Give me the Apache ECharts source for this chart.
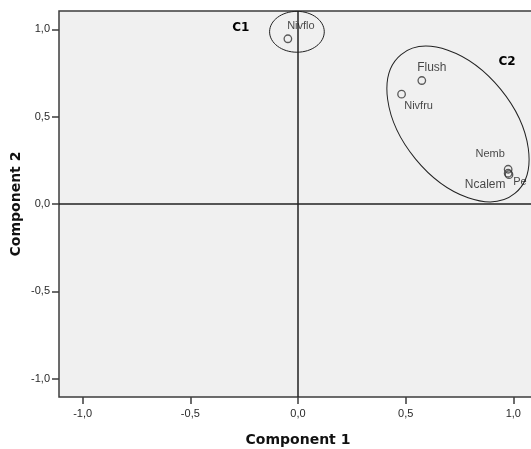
<!DOCTYPE html>
<html>
<head>
<meta charset="utf-8">
<script src="https://cdn.jsdelivr.net/npm/echarts@6/dist/echarts.min.js"></script>
<style>
  html, body { margin: 0; padding: 0; background: #ffffff; }
  #chart { width: 531px; height: 449px; }
</style>
</head>
<body>
<div id="chart"></div>
<script>
// ---- data ----
const variables = ['Nivflo', 'Flush', 'Nivfru', 'Nemb', 'Ncalem', 'Pe'];
const component1 = [-0.047, 0.575, 0.481, 0.976, 0.976, 0.980];
const component2 = [0.946, 0.707, 0.629, 0.199, 0.176, 0.168];

const tickValues = [-1.0, -0.5, 0.0, 0.5, 1.0];

// cluster ellipses (centre in data units, radii, rotation in degrees)
const clusterNames = ['C1', 'C2'];
const clusterCenterX = [-0.005, 0.743];
const clusterCenterY = [0.986, 0.458];
const clusterRadiusX = [0.127, 0.417];
const clusterRadiusY = [0.117, 0.315];
const clusterAngle = [0, 50.7];
const clusterLabelX = [-0.266, 0.971];
const clusterLabelY = [1.007, 0.815];

// ---- label styling (not data) ----
const labelOffsets = {
  Nivflo: [13, -13], Flush: [10, -13], Nivfru: [17, 12],
  Nemb: [-18, -15], Ncalem: [-23, 11], Pe: [11, 7]
};
const labelSizes = { Nivflo: 11, Flush: 12, Nivfru: 11, Nemb: 11, Ncalem: 12, Pe: 11 };

const fmt = v => v.toFixed(1).replace('.', ',');

const pointData = variables.map((name, i) => ({
  name: name,
  value: [component1[i], component2[i]],
  label: {
    show: true,
    formatter: name,
    position: 'inside',
    offset: labelOffsets[name],
    fontSize: labelSizes[name],
    fontFamily: 'Liberation Sans, Arial, sans-serif',
    color: '#1a1a1a'
  }
}));

const ellipseData = clusterNames.map((n, i) => [clusterCenterX[i], clusterCenterY[i], clusterRadiusX[i], clusterRadiusY[i], clusterAngle[i]]);
const clusterLabelData = clusterNames.map((n, i) => [clusterLabelX[i], clusterLabelY[i], n]);

const chart = echarts.init(document.getElementById('chart'), null, { renderer: 'canvas' });

chart.setOption({
  animation: false,
  backgroundColor: '#ffffff',
  grid: {
    left: 59, top: 11, width: 478, height: 386,
    outerBoundsMode: 'none',
    containLabel: false,
    show: true,
    backgroundColor: '#f0f0f0',
    borderColor: '#3c3c3c',
    borderWidth: 1.5
  },
  xAxis: {
    type: 'value',
    min: -1.11, max: 1.11,
    name: 'Component 1',
    nameLocation: 'middle',
    nameGap: 36,
    nameMoveOverlap: false,
    nameTextStyle: { fontFamily: 'DejaVu Sans', fontWeight: 'bold', fontSize: 14, color: '#111' },
    axisLine: { show: false, onZero: false },
    splitLine: { show: false },
    axisTick: { show: true, customValues: tickValues, length: 7, lineStyle: { color: '#3c3c3c', width: 1.5 } },
    axisLabel: { customValues: tickValues, formatter: fmt, margin: 11, fontSize: 11, fontFamily: 'Liberation Sans, Arial, sans-serif', color: '#2a2a2a' }
  },
  yAxis: {
    type: 'value',
    min: -1.105, max: 1.105,
    name: 'Component 2',
    nameLocation: 'middle',
    nameGap: 36,
    nameMoveOverlap: false,
    nameTextStyle: { fontFamily: 'DejaVu Sans', fontWeight: 'bold', fontSize: 14, color: '#111' },
    axisLine: { show: false, onZero: false },
    splitLine: { show: false },
    axisTick: { show: true, customValues: tickValues, length: 7, lineStyle: { color: '#3c3c3c', width: 1.5 } },
    axisLabel: { customValues: tickValues, formatter: fmt, margin: 9, fontSize: 11, fontFamily: 'Liberation Sans, Arial, sans-serif', color: '#2a2a2a' }
  },
  series: [
    {
      type: 'custom',
      name: 'clusters',
      data: ellipseData,
      encode: { x: 0, y: 1 },
      renderItem: function (params, api) {
        const c = api.coord([api.value(0), api.value(1)]);
        const s = api.size([api.value(2), api.value(3)]);
        return {
          type: 'ellipse',
          x: c[0], y: c[1],
          rotation: -api.value(4) * Math.PI / 180,
          shape: { cx: 0, cy: 0, rx: s[0], ry: s[1] },
          style: { fill: 'none', stroke: '#222', lineWidth: 1 }
        };
      },
      z: 3
    },
    {
      type: 'custom',
      name: 'clusterLabels',
      data: clusterLabelData,
      encode: { x: 0, y: 1 },
      renderItem: function (params, api) {
        const c = api.coord([api.value(0), api.value(1)]);
        return {
          type: 'text',
          x: c[0], y: c[1],
          style: {
            text: clusterNames[params.dataIndex],
            font: 'bold 12px "DejaVu Sans"',
            fill: '#000',
            align: 'center',
            verticalAlign: 'middle'
          }
        };
      },
      z: 4
    },
    {
      type: 'scatter',
      name: 'loadings',
      data: pointData,
      symbol: 'circle',
      symbolSize: 7.5,
      itemStyle: { color: 'rgba(0,0,0,0)', borderColor: '#333', borderWidth: 1.3 },
      emphasis: { disabled: true },
      z: 5,
      markLine: {
        silent: true,
        symbol: 'none',
        label: { show: false },
        lineStyle: { color: '#222', width: 1.5, type: 'solid' },
        data: [{ xAxis: 0 }, { yAxis: 0 }],
        z: 2
      }
    }
  ]
});
</script>
</body>
</html>
